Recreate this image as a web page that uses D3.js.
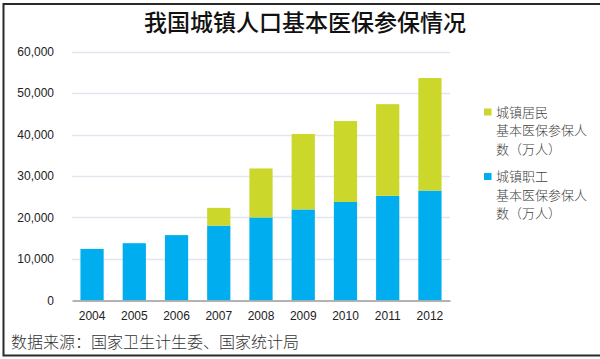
<!DOCTYPE html>
<html>
<head>
<meta charset="utf-8">
<script src="https://cdn.jsdelivr.net/npm/d3@7"></script>
<style>
  html, body { margin: 0; padding: 0; background: #fff; }
  svg { display: block; }
</style>
</head>
<body>
<svg id="chart" width="600" height="359"></svg>
<script>
const years = ["2004","2005","2006","2007","2008","2009","2010","2011","2012"];
const employees = [12404, 13783, 15732, 18020, 19996, 21937, 23735, 25227, 26486];
const residents = [0, 0, 0, 4291, 11826, 18210, 19528, 22116, 27156];
const yTicks = [0, 10000, 20000, 30000, 40000, 50000, 60000];
const seriesNames = ["城镇居民", "城镇职工"];
const legendSub = ["基本医保参保人", "数（万人）"];
const title = "我国城镇人口基本医保参保情况";
const source = "数据来源：国家卫生计生委、国家统计局";

const colors = { emp: "#00aeef", res: "#cbd82b" };
const svg = d3.select("#chart");
const cjk = "'Noto Sans CJK SC', 'Noto Sans', sans-serif";

// frame
svg.append("rect").attr("x", 3.5).attr("y", 4).attr("width", 610).attr("height", 351.5)
  .attr("fill", "none").attr("stroke", "#2a2a2a").attr("stroke-width", 2);

const x = d3.scaleBand().domain(years).range([72, 450]).paddingInner(0.45).paddingOuter(0.2);
const y = d3.scaleLinear().domain([0, 60000]).range([300.3, 51.7]);

// gridlines
svg.append("g").selectAll("line").data(yTicks.filter(d => d > 0)).join("line")
  .attr("x1", 72).attr("x2", 450)
  .attr("y1", d => Math.round(y(d)) + 0.5).attr("y2", d => Math.round(y(d)) + 0.5)
  .attr("stroke", "#dfe6f0").attr("stroke-width", 1.3);

// y axis
const yAxis = svg.append("g").attr("transform", "translate(72,0)")
  .call(d3.axisLeft(y).tickValues(yTicks).tickSize(0).tickPadding(18).tickFormat(d3.format(",")));
yAxis.select(".domain").remove();
yAxis.selectAll("text").attr("font-family", "'Liberation Sans', Arial, sans-serif")
  .attr("font-size", 12).attr("fill", "#222");

// bars
const data = years.map((yr, i) => ({ yr, emp: employees[i], res: residents[i] }));
const stack = d3.stack().keys(["emp", "res"])(data);
svg.append("g").selectAll("g").data(stack).join("g")
  .attr("fill", d => colors[d.key])
  .selectAll("rect").data(d => d.filter(p => p[1] > p[0])).join("rect")
  .attr("x", d => x(d.data.yr))
  .attr("width", x.bandwidth())
  .attr("y", d => y(d[1]))
  .attr("height", d => y(d[0]) - y(d[1]));

// x axis
const xAxis = svg.append("g").attr("transform", "translate(0,300.5)")
  .call(d3.axisBottom(x).tickSize(0).tickPadding(11));
xAxis.select(".domain").attr("stroke", "#9a9a9a").attr("stroke-width", 1.5);
xAxis.selectAll("text").attr("font-family", "'Liberation Sans', Arial, sans-serif")
  .attr("font-size", 12).attr("fill", "#222");

// title
svg.append("text").attr("x", 305).attr("y", 31).attr("text-anchor", "middle")
  .attr("font-family", cjk).attr("font-size", 23).attr("font-weight", 500)
  .attr("fill", "#111").text(title);

// legend
const legendItems = [
  { name: seriesNames[0], color: colors.res, y0: 112 },
  { name: seriesNames[1], color: colors.emp, y0: 176.5 }
];
const lg = svg.append("g");
legendItems.forEach(it => {
  lg.append("rect").attr("x", 484).attr("y", it.y0 - 3.5).attr("width", 7.5).attr("height", 7)
    .attr("fill", it.color);
  [it.name, ...legendSub].forEach((t, j) => {
    lg.append("text").attr("x", 496).attr("y", it.y0 + j * 18.5)
      .attr("dy", "0.35em").attr("font-family", cjk).attr("font-size", 13).attr("font-weight", 300)
      .attr("fill", "#404040").text(t);
  });
});

// source
svg.append("text").attr("x", 11).attr("y", 347.5)
  .attr("font-family", cjk).attr("font-size", 16).attr("font-weight", 300)
  .attr("fill", "#333").text(source);
</script>
</body>
</html>
